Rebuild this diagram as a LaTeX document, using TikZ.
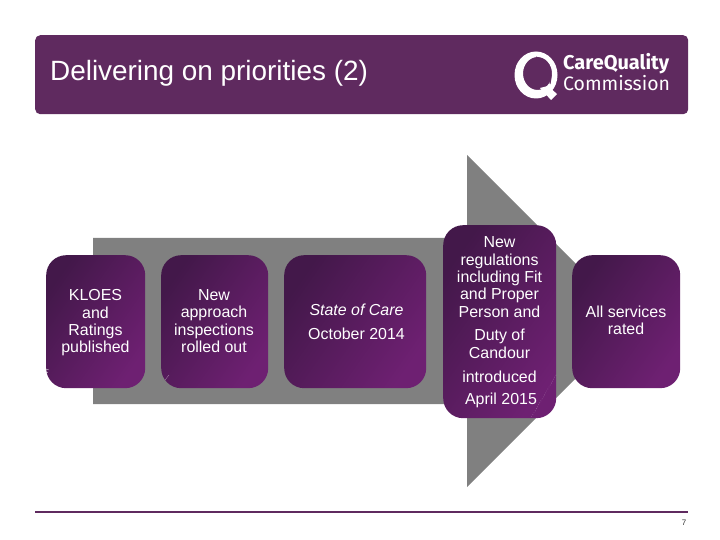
\documentclass[tikz,border=0pt]{standalone}
\usepackage{fontspec}
\setmainfont{Liberation Sans}
\newfontfamily\logofont{Fira Sans}
\definecolor{hdr}{HTML}{5F2A5F}
\definecolor{boxdark}{HTML}{43184A}
\definecolor{boxlight}{HTML}{6E2072}
\definecolor{arrowgray}{HTML}{808080}
\tikzset{
  x=1bp,y=-1bp,
  stagebox/.style={rounded corners=20bp,minimum height=133bp,inner sep=0pt,anchor=north west,
    left color=boxdark,right color=boxlight,shading angle=55},
  boxlabel/.style={text=white,align=center,font=\fontsize{16}{17.4}\selectfont,inner sep=0pt},
}
\begin{document}
\begin{tikzpicture}
\useasboundingbox (0,0) rectangle (720,540);
\fill[white] (0,0) rectangle (720,540);
% header
\node[fill=hdr,rounded corners=5bp,minimum width=653bp,minimum height=79bp,inner sep=0pt,anchor=north west] (header) at (35,35) {};
\node[text=white,anchor=west,inner sep=0pt,font=\fontsize{28}{32}\selectfont] (title) at (50,73) {Delivering on priorities (2)};
% logo
\fill[white,even odd rule] (536,75) ellipse [x radius=21.5,y radius=23.5] (537.5,73.5) ellipse [x radius=14.5,y radius=16.5];
\fill[white] (540,88) -- (548,86) -- (557,94) -- (551,100) -- cycle;
\draw[hdr,line width=1bp] (536,57) .. controls (548,60) and (553,72) .. (550,84);
\node[text=white,anchor=west,inner sep=0pt,font=\logofont\bfseries\fontsize{20}{22}\selectfont] (logoa) at (563,64) {CareQuality};
\node[text=white,anchor=west,inner sep=0pt,font=\logofont\fontsize{19.5}{21}\selectfont] (logob) at (563,83) {Commission};
% arrow
\fill[arrowgray] (93,238) -- (467,238) -- (467,155) -- (633,321) -- (467,487) -- (467,404) -- (93,404) -- cycle;
% boxes
\node[stagebox,minimum width=99bp] (b1) at (46,255) {};
\node[stagebox,minimum width=107bp] (b2) at (161,255) {};
\node[stagebox,minimum width=142bp] (b3) at (284,255) {};
\node[stagebox,minimum width=113bp,minimum height=193bp] (b4) at (443,225) {};
\node[stagebox,minimum width=108bp] (b5) at (572,255) {};
% artifacts
\draw[white,line width=.3bp,dotted] (556,375) -- (531,418);
\draw[white,opacity=.5,line width=.3bp] (165,380) -- (169,375);
\draw[white,line width=.3bp] (46,369) -- (49,370) (46,373) -- (48,372);
% labels
\node[boxlabel] (t1) at (95.5,323) {KLOES\\and\\Ratings\\published};
\node[boxlabel] (t2) at (214,321) {New\\approach\\inspections\\rolled out};
\node[boxlabel,font=\fontsize{16}{24}\selectfont] (t3) at (356.5,322) {\textit{State of Care}\\October 2014};
\node[boxlabel,anchor=north] (t4a) at (499.5,236.5) {New\\regulations\\including Fit\\and Proper\\Person and};
\node[boxlabel,anchor=north] (t4b) at (499.5,329) {Duty of\\Candour};
\node[boxlabel] (t4c) at (499.5,376.5) {introduced};
\node[boxlabel] (t4d) at (501,400.5) {April 2015};
\node[boxlabel] (t5) at (626,320) {All services\\rated};
% footer
\coordinate (fa) at (35,512);
\coordinate (fb) at (688,512);
\draw[hdr,line width=1.5bp] (fa) -- (fb);
\node[inner sep=0pt,font=\fontsize{8}{9}\selectfont,text=black!80] (page) at (684,523) {7};
\end{tikzpicture}
\end{document}
